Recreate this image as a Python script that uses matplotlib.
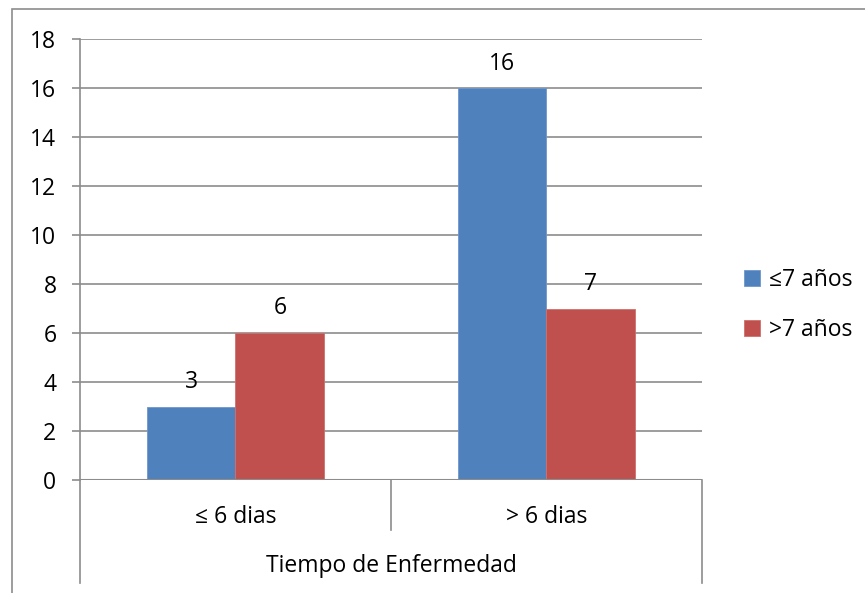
import numpy as np
import matplotlib.pyplot as plt
from matplotlib.patches import Rectangle

plt.rcParams['font.family'] = ['Open Sans', 'DejaVu Sans']

categorias = ["≤ 6 dias", "> 6 dias"]
series = ["≤7 años", ">7 años"]
menor7 = [3, 16]
mayor7 = [6, 7]
colores = ["#4F81BD", "#C0504D"]
titulo_eje = "Tiempo de Enfermedad"

W, H = 865, 593
fs = 16.5
fig = plt.figure(figsize=(W / 100, H / 100), dpi=100)

# marco exterior (recortado abajo y a la derecha)
fig.patches.append(Rectangle((12 / W, -0.1), 1.2, (H - 9) / H + 0.1,
                             transform=fig.transFigure, fill=False,
                             edgecolor="#8c8c8c", linewidth=1.2))

ax = fig.add_axes([80 / W, (H - 480) / H, 622 / W, 441 / H])
x = np.arange(len(categorias))
ancho = 0.286
b1 = ax.bar(x - ancho / 2, menor7, ancho, color=colores[0], label=series[0],
            edgecolor="#6f97cc", linewidth=0.6, zorder=3)
b2 = ax.bar(x + ancho / 2, mayor7, ancho, color=colores[1], label=series[1],
            edgecolor="#cf6f6c", linewidth=0.6, zorder=3)
for barras in (b1, b2):
    for r in barras:
        ax.annotate(f"{r.get_height():g}", (r.get_x() + r.get_width() / 2, r.get_height()),
                    xytext=(0, 9), textcoords="offset points", ha="center", va="bottom",
                    fontsize=fs)

ax.set_xlim(-0.5, 1.5)
ax.set_ylim(0, 18)
ax.set_yticks(range(0, 19, 2))
ax.yaxis.grid(True, color="#8c8c8c", linewidth=1.2, zorder=0)
ax.tick_params(axis="y", labelsize=fs, length=6, color="#8c8c8c", width=1.2, pad=11)
ax.set_xticks([])
for s in ["top", "right", "bottom"]:
    ax.spines[s].set_visible(False)
ax.spines["left"].set_color("#8c8c8c")
ax.spines["left"].set_linewidth(1.2)
ax.axhline(0, color="#8c8c8c", linewidth=1.5, zorder=4)

# eje de categorias de dos niveles
abajo = -103 / 441
ax.plot([0, 0], [0, abajo], transform=ax.transAxes, clip_on=False, color="#8c8c8c", lw=1.2)
ax.plot([1, 1], [0, abajo], transform=ax.transAxes, clip_on=False, color="#8c8c8c", lw=1.2)
ax.plot([0.5, 0.5], [0, -50 / 441], transform=ax.transAxes, clip_on=False, color="#8c8c8c", lw=1.2)
for i, c in enumerate(categorias):
    ax.text((i + 0.5) / 2, -37 / 441, c, transform=ax.transAxes, ha="center", va="center", fontsize=fs)
ax.text(0.5, -86 / 441, titulo_eje, transform=ax.transAxes, ha="center", va="center", fontsize=fs)

ax.legend(loc="center left", bbox_to_anchor=(723 / W, (H - 305) / H), bbox_transform=fig.transFigure,
          frameon=False, fontsize=fs, handlelength=0.7, handleheight=0.7, handletextpad=0.4,
          labelspacing=1.15)

fig.savefig("out.png", dpi=100)
